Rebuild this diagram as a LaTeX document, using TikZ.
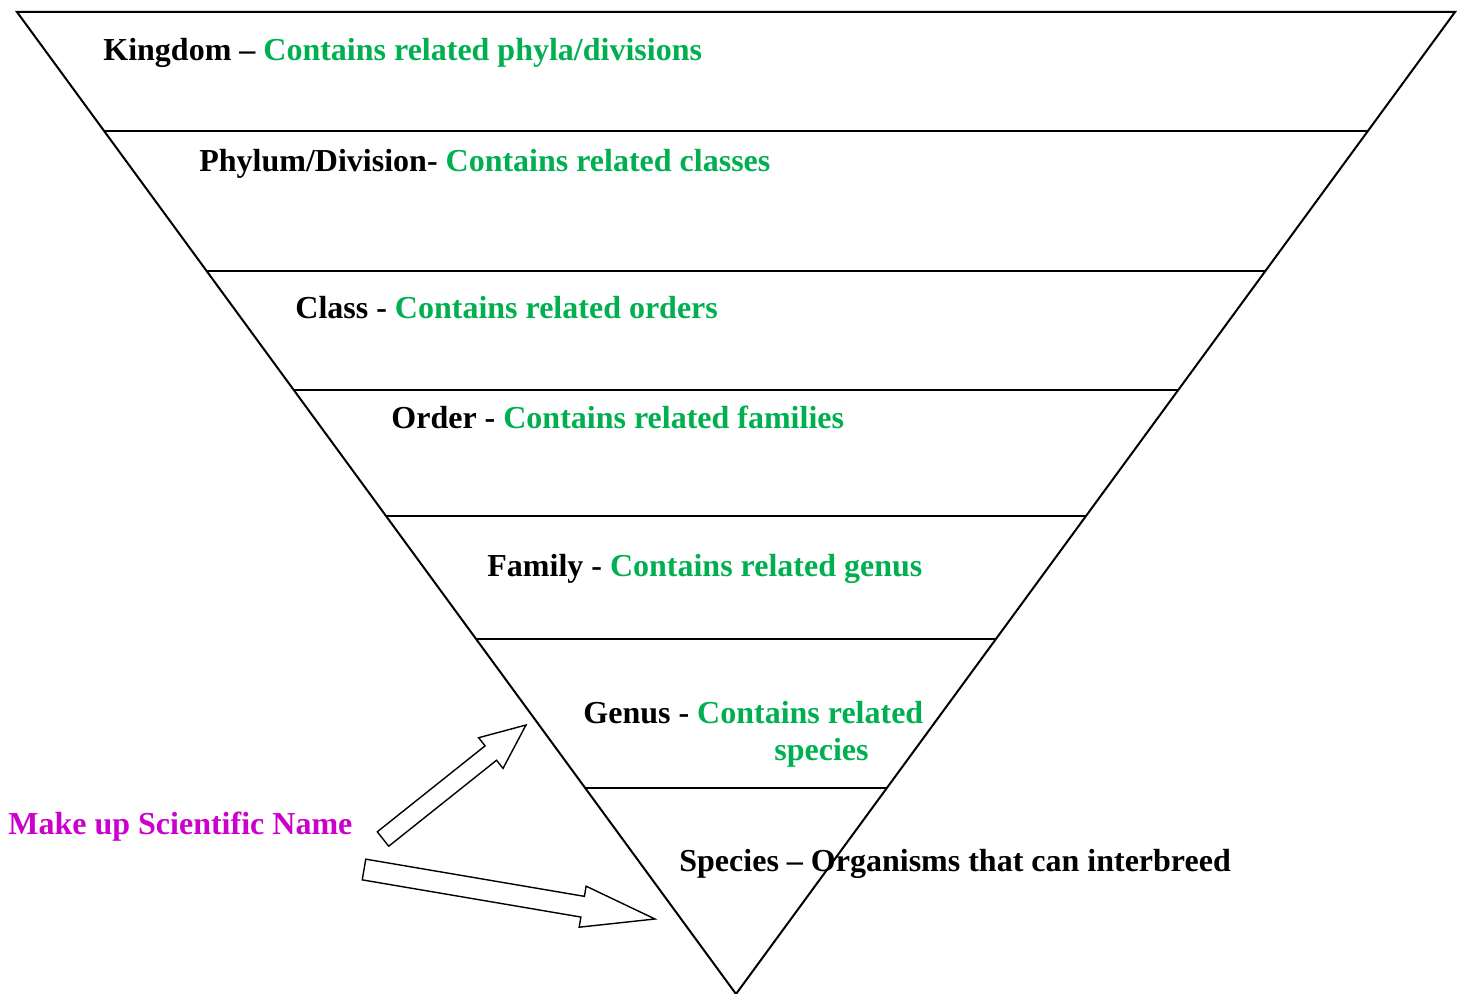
\documentclass[tikz,border=0pt]{standalone}
\usepackage{fontspec}
\setmainfont{Liberation Serif}
\usetikzlibrary{calc}
\definecolor{rankgreen}{RGB}{0,176,80}
\definecolor{namepink}{RGB}{204,0,204}
\tikzset{rank/.style={anchor=base west,inner sep=0pt,font=\fontsize{16pt}{19pt}\selectfont\bfseries},
	edge/.style={line width=1pt},
	fatline/.style={line width=0.7pt,line join=miter,fill=white}}
% block arrow: tail, tip, half shaft, half head, head length
\newcommand{\blockarrow}[5]{%
	\coordinate (hb) at ($(#2)!#5!(#1)$);
	\draw[fatline] ($(#1)!#3!90:(#2)$)--($(hb)!#3!90:(#2)$)--($(hb)!#4!90:(#2)$)--(#2)
		--($(hb)!#4!-90:(#2)$)--($(hb)!#3!-90:(#2)$)--($(#1)!#3!-90:(#2)$)--cycle;}

\begin{document}
\begin{tikzpicture}[x=0.5pt,y=-0.5pt]
	\useasboundingbox (0,0) rectangle (1461,994);
	\coordinate (tl) at (17,12);
	\coordinate (tr) at (1455,12);
	\coordinate (apex) at (736,994);
	\draw[edge] (tl)--(tr)--(apex)--cycle;
	\foreach \y in {131,271,390,516,639,788}
		\draw[edge] ($(tl)!{(\y-12)/982}!(apex)$)--($(tr)!{(\y-12)/982}!(apex)$);
	\node (kingdom) at (103,61)[rank] {Kingdom – \textcolor{rankgreen}{Contains related phyla/divisions}};
	\node (phylum) at (199,172)[rank] {Phylum/Division- \textcolor{rankgreen}{Contains related classes}};
	\node (class) at (295,319)[rank] {Class - \textcolor{rankgreen}{Contains related orders}};
	\node (order) at (391,429)[rank] {Order - \textcolor{rankgreen}{Contains related families}};
	\node (family) at (487,576)[rank] {Family - \textcolor{rankgreen}{Contains related genus}};
	\node (genus) at (583,723)[rank] {Genus - \textcolor{rankgreen}{Contains related}};
	\node (genus2) at (774,760)[rank,text=rankgreen] {species};
	\node (sciname) at (8,834)[rank,text=namepink] {Make up Scientific Name};
	\coordinate (uptail) at (383,839);
	\coordinate (uptip) at (526,725);
	\coordinate (lowtail) at (364,869.5);
	\coordinate (lowtip) at (655,919);
	\blockarrow{uptail}{uptip}{4.6pt}{9.8pt}{22.5pt}
	\blockarrow{lowtail}{lowtip}{5.25pt}{10.4pt}{36.7pt}
	\node (species) at (679,871)[rank] {Species – Organisms that can interbreed};
\end{tikzpicture}
\end{document}
